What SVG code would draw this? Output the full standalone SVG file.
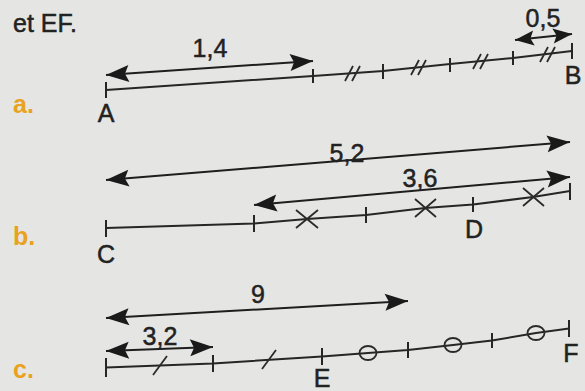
<svg xmlns="http://www.w3.org/2000/svg" width="585" height="391" viewBox="0 0 585 391">
<defs>
<marker id="ah" viewBox="-24 -10 25 20" refX="0" refY="0" markerWidth="25" markerHeight="20" markerUnits="userSpaceOnUse" orient="auto-start-reverse">
<path d="M0,0 L-23,-8.5 L-19,0 L-23,8.5 Z" fill="#1a1a1a"/>
</marker>
<marker id="ahs" viewBox="-20 -9 21 18" refX="0" refY="0" markerWidth="21" markerHeight="18" markerUnits="userSpaceOnUse" orient="auto-start-reverse">
<path d="M0,0 L-19,-7.5 L-15.5,0 L-19,7.5 Z" fill="#1a1a1a"/>
</marker>
</defs>
<style>
.ln{fill:none;stroke:#262626;stroke-width:2;stroke-linejoin:round}
.tk{fill:none;stroke:#262626;stroke-width:2}
.mk{fill:none;stroke:#2a2a2a;stroke-width:1.8}
.ar{fill:none;stroke:#1e1e1e;stroke-width:2;marker-start:url(#ah);marker-end:url(#ah)}
.ars{fill:none;stroke:#1e1e1e;stroke-width:2;marker-start:url(#ahs);marker-end:url(#ahs)}
.t{font-family:"Liberation Sans",Arial,sans-serif;font-size:25px;fill:#222;stroke:#222;stroke-width:0.5}
.c{text-anchor:middle}
.lab{font-family:"Liberation Sans",Arial,sans-serif;font-size:25px;font-weight:bold;fill:#e8a21e}
</style>
<rect width="585" height="391" fill="#e5e6e4"/>
<text class="t" x="13" y="32" font-size="24">et EF.</text>

<g id="partA">
<text class="lab" x="13" y="113">a.</text>
<g id="lineAB">
<polyline class="ln" points="106,90 313,76 383,71 450,64 513,58 572,51"/>
<path class="tk" d="M106,82V98 M313,69V83 M383,64V79 M450,58V72 M513,51V65 M572,43V59"/>
<path class="mk" d="M345,81L353,66 M352,81L360,66 M411,75L419,60 M418,75L426,60 M473,69L481,54 M480,69L488,54 M540,62L548,47 M547,62L555,47"/>
</g>
<text id="A" class="t c" x="106" y="122">A</text>
<text id="B" class="t c" x="573" y="84">B</text>
</g>

<g id="partB">
<text class="lab" x="13" y="245">b.</text>
<g id="lineCD">
<polyline class="ln" points="106,228 254,223.5 307,219 366,215 425,208 473,204.5 533,197 570,191"/>
<path class="tk" d="M106,220V237 M254,215V232 M366,207V223 M473,197V212 M570,183V200"/>
<path class="mk" d="M296,210L318,228 M296,228L318,210 M415,199L436,217 M415,217L436,199 M523,188L544,206 M523,206L544,188"/>
</g>
<text id="C" class="t c" x="106" y="263">C</text>
<text id="D" class="t c" x="474" y="238">D</text>
</g>

<g id="partC">
<text class="lab" x="13" y="378">c.</text>
<g id="lineEF">
<polyline class="ln" points="106,367.5 213,363.5 322,356.5 368,353 408,350 453,345 492,340.5 536,333 569,328.5"/>
<path class="tk" d="M106,358V377 M213,355V372 M322,348V365 M408,342V358 M492,333V348 M569,320V337"/>
<path class="mk" d="M153,375L167,356 M262,369L276,350"/>
<ellipse class="mk" cx="368" cy="353" rx="8.5" ry="7"/>
<ellipse class="mk" cx="453" cy="345" rx="8.5" ry="7"/>
<ellipse class="mk" cx="536" cy="333" rx="8.5" ry="7"/>
</g>
<text id="E" class="t c" x="322" y="387">E</text>
<text id="F" class="t c" x="571" y="362">F</text>
</g>

<g id="connectors">
<path class="ar" d="M106,75 L313,61"/>
<path class="ars" d="M515,40 L572,34"/>
<path class="ar" d="M106,180 L570,142"/>
<path class="ar" d="M254,205 L570,177"/>
<path class="ar" d="M106,318 L408,301"/>
<path class="ar" d="M106,351 L213,347"/>
</g>
<g id="labels">
<text class="t c" x="210" y="57">1,4</text>
<text class="t c" x="543" y="27" font-size="22">0,5</text>
<text class="t c" x="347" y="162">5,2</text>
<text class="t c" x="420" y="187">3,6</text>
<text class="t c" x="258" y="303">9</text>
<text class="t c" x="160" y="345">3,2</text>
</g>
</svg>
